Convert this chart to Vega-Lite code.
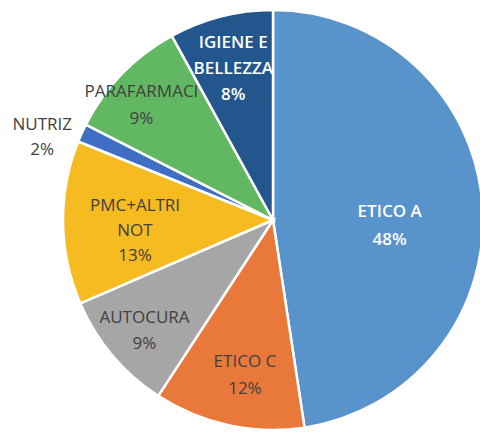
{
  "$schema": "https://vega.github.io/schema/vega-lite/v6.json",
  "width": 414,
  "height": 432,
  "padding": {"left": 66, "top": 4, "right": 0, "bottom": 0},
  "autosize": {"type": "none"},
  "background": "white",
  "view": {"stroke": null},
  "data": {
    "values": [
      {"idx": 1, "cat": "ETICO A", "label": "ETICO A\n48%", "value": 47.6},
      {"idx": 2, "cat": "ETICO C", "label": "ETICO C\n12%", "value": 11.6},
      {"idx": 3, "cat": "AUTOCURA", "label": "AUTOCURA\n9%", "value": 9.3},
      {"idx": 4, "cat": "PMC+ALTRI NOT", "label": "PMC+ALTRI\nNOT\n13%", "value": 12.6},
      {"idx": 5, "cat": "NUTRIZ", "label": "NUTRIZ\n2%", "value": 1.4},
      {"idx": 6, "cat": "PARAFARMACI", "label": "PARAFARMACI\n9%", "value": 9.5},
      {"idx": 7, "cat": "IGIENE E BELLEZZA", "label": "IGIENE E\nBELLEZZA\n8%", "value": 8.0}
    ]
  },
  "encoding": {
    "theta": {"field": "value", "type": "quantitative", "stack": true},
    "order": {"field": "idx", "type": "quantitative"}
  },
  "layer": [
    {
      "mark": {"type": "arc", "outerRadius": 210, "stroke": "white", "strokeWidth": 2.5},
      "encoding": {
        "color": {
          "field": "cat", "type": "nominal", "legend": null,
          "scale": {
            "domain": ["ETICO A", "ETICO C", "AUTOCURA", "PMC+ALTRI NOT", "NUTRIZ", "PARAFARMACI", "IGIENE E BELLEZZA"],
            "range": ["#5893cc", "#e8793a", "#a6a6a6", "#f7bb22", "#3e6fc4", "#62b862", "#22568c"]
          }
        }
      }
    },
    {
      "mark": {"type": "text", "radius": 117, "dy": 1, "font": "Open Sans", "fontSize": 17, "fontWeight": 600, "lineBreak": "\n", "lineHeight": 28, "baseline": "middle", "fill": "white"},
      "encoding": {"text": {"condition": {"test": "datum.cat === 'ETICO A'", "field": "label"}, "value": ""}}
    },
    {
      "mark": {"type": "text", "radius": 156, "dx": 5, "dy": -10, "font": "Open Sans", "fontSize": 17, "lineBreak": "\n", "lineHeight": 27, "baseline": "middle", "fill": "#404040"},
      "encoding": {"text": {"condition": {"test": "datum.cat === 'ETICO C'", "field": "label"}, "value": ""}}
    },
    {
      "mark": {"type": "text", "radius": 156, "dx": -1, "dy": -26, "font": "Open Sans", "fontSize": 17, "fontWeight": 600, "lineBreak": "\n", "lineHeight": 26, "baseline": "middle", "fill": "white"},
      "encoding": {"text": {"condition": {"test": "datum.cat === 'IGIENE E BELLEZZA'", "field": "label"}, "value": ""}}
    },
    {
      "mark": {"type": "text", "radius": 172, "dx": 3, "dy": -13, "font": "Open Sans", "fontSize": 17, "lineBreak": "\n", "lineHeight": 26, "baseline": "middle", "fill": "#404040"},
      "encoding": {"text": {"condition": {"test": "datum.cat === 'AUTOCURA'", "field": "label"}, "value": ""}}
    },
    {
      "mark": {"type": "text", "radius": 172, "dx": -8, "dy": -8, "font": "Open Sans", "fontSize": 17, "lineBreak": "\n", "lineHeight": 27, "baseline": "middle", "fill": "#404040"},
      "encoding": {"text": {"condition": {"test": "datum.cat === 'PARAFARMACI'", "field": "label"}, "value": ""}}
    },
    {
      "mark": {"type": "text", "radius": 138, "dy": -16, "font": "Open Sans", "fontSize": 17, "lineBreak": "\n", "lineHeight": 25, "baseline": "middle", "fill": "#404040"},
      "encoding": {"text": {"condition": {"test": "datum.cat === 'PMC+ALTRI NOT'", "field": "label"}, "value": ""}}
    },
    {
      "mark": {"type": "text", "radius": 236, "dx": -16, "dy": 3, "font": "Open Sans", "fontSize": 17, "lineBreak": "\n", "lineHeight": 25, "baseline": "middle", "fill": "#404040"},
      "encoding": {"text": {"condition": {"test": "datum.cat === 'NUTRIZ'", "field": "label"}, "value": ""}}
    }
  ]
}
